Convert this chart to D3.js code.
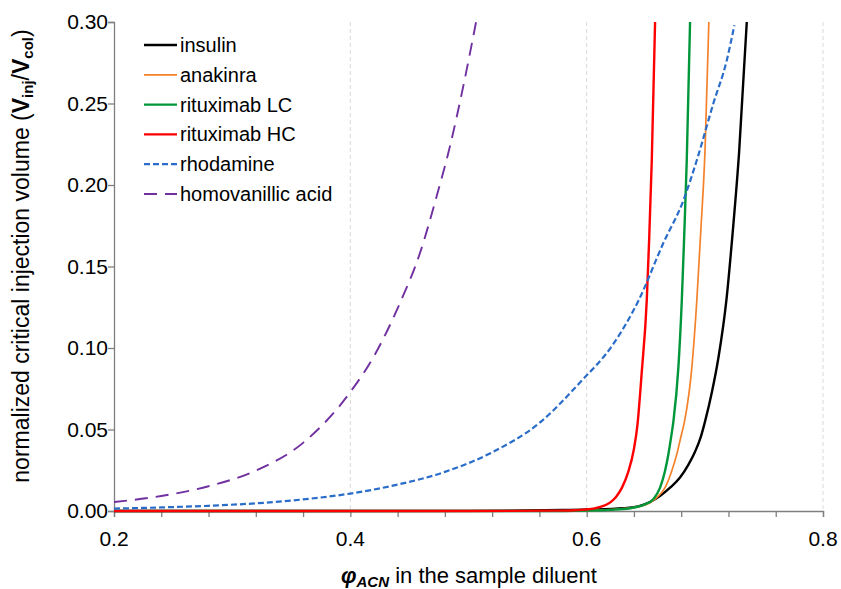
<!DOCTYPE html>
<html>
<head>
<meta charset="utf-8">
<script src="https://cdn.jsdelivr.net/npm/d3@7"></script>
<style>
  html, body { margin: 0; padding: 0; background: #fff; }
  svg { display: block; font-family: Arial, "Liberation Sans", sans-serif; }
</style>
</head>
<body>
<svg id="chart" width="841" height="589"></svg>
<script>
// φ_ACN in the sample diluent vs. normalized critical injection volume
const seriesNames = ["insulin", "anakinra", "rituximab LC", "rituximab HC", "rhodamine", "homovanillic acid"];
const seriesColors = ["#000000", "#F4822A", "#00973A", "#FF0000", "#2A6DC9", "#7030A0"];

const insulin = [[0.2,0],[0.5,0.0001],[0.55,0.0003],[0.58,0.0006],[0.603,0.0009],[0.631,0.0017],[0.645,0.0031],[0.654,0.0057],[0.662,0.0092],[0.6706,0.0143],[0.679,0.0205],[0.686,0.0283],[0.6918,0.0365],[0.6966,0.0455],[0.7002,0.055],[0.706,0.073],[0.7115,0.094],[0.7182,0.129],[0.7237,0.172],[0.729,0.22],[0.7355,0.30]];
const anakinra = [[0.2,0],[0.55,0],[0.60,0.0003],[0.62,0.0008],[0.64,0.0022],[0.6537,0.0051],[0.6593,0.0082],[0.6663,0.0143],[0.672,0.0246],[0.6763,0.0349],[0.6796,0.0451],[0.6829,0.0553],[0.689,0.088],[0.6932,0.129],[0.6966,0.172],[0.7002,0.222],[0.7034,0.30]];
const rituximabLC = [[0.2,0],[0.58,0],[0.60,0.0002],[0.62,0.0007],[0.6367,0.0017],[0.6494,0.0041],[0.6564,0.0072],[0.6621,0.0143],[0.6663,0.0246],[0.6692,0.035],[0.6714,0.045],[0.6734,0.055],[0.6776,0.088],[0.6805,0.129],[0.6824,0.166],[0.6847,0.215],[0.6875,0.30]];
const rituximabHC = [[0.2,0],[0.5,0],[0.57,0.0002],[0.59,0.0005],[0.60,0.0009],[0.61,0.0022],[0.62,0.0053],[0.625,0.0088],[0.63,0.0145],[0.635,0.0235],[0.64,0.038],[0.643,0.053],[0.6466,0.085],[0.6509,0.13],[0.6528,0.165],[0.6551,0.215],[0.6579,0.30]];
const rhodamine = [[0.2,0.0015],[0.24,0.0022],[0.28,0.0032],[0.32,0.0047],[0.36,0.0071],[0.40,0.0107],[0.44,0.0162],[0.48,0.024],[0.52,0.036],[0.56,0.054],[0.5944,0.0789],[0.6226,0.1025],[0.6438,0.129],[0.6649,0.1644],[0.6819,0.1906],[0.6932,0.2152],[0.7072,0.25],[0.7186,0.2766],[0.725,0.298]];
const homovanillicAcid = [[0.2,0.0055],[0.24,0.0092],[0.28,0.0152],[0.32,0.0248],[0.36,0.0418],[0.40,0.0730],[0.42,0.095],[0.442,0.1276],[0.459,0.1584],[0.4731,0.1932],[0.4844,0.224],[0.4957,0.261],[0.5064,0.30]];

const xMajorTicks = [0.2, 0.4, 0.6, 0.8];
const xMinorTicks = d3.range(0, 16).map(i => 0.2 + i * 0.04);
const yTicks = [0, 0.05, 0.10, 0.15, 0.20, 0.25, 0.30];

const seriesData = [insulin, anakinra, rituximabLC, rituximabHC, rhodamine, homovanillicAcid];
const seriesWidths = [2.4, 1.7, 2.4, 2.4, 2.2, 1.9];
const seriesDash = [null, null, null, null, "6,3", "13,8"];

const svg = d3.select("#chart");
const plotLeft = 114, plotRight = 823, plotTop = 22, plotBottom = 511;

const x = d3.scaleLinear().domain([0.2, 0.8]).range([plotLeft, plotRight]);
const y = d3.scaleLinear().domain([0, 0.30]).range([plotBottom, plotTop]);

// vertical dashed gridlines at major x ticks
svg.append("g").selectAll("line")
  .data(xMajorTicks.slice(1))
  .join("line")
  .attr("x1", d => x(d)).attr("x2", d => x(d))
  .attr("y1", plotTop).attr("y2", plotBottom)
  .attr("stroke", "#d9d9d9").attr("stroke-width", 1)
  .attr("stroke-dasharray", "4,3");

// x axis: minor ticks every 0.04, labels at 0.2 steps
const xAxis = svg.append("g").attr("transform", `translate(0,${plotBottom})`)
  .call(d3.axisBottom(x).tickValues(xMinorTicks).tickSize(6).tickFormat(""));
xAxis.select(".domain").attr("stroke", "#7f7f7f").attr("stroke-width", 1.3);
xAxis.selectAll(".tick line").attr("stroke", "#7f7f7f").attr("stroke-width", 1.3);

svg.append("g").selectAll("text")
  .data(xMajorTicks)
  .join("text")
  .attr("x", d => x(d)).attr("y", 546)
  .attr("text-anchor", "middle")
  .attr("font-size", 21).attr("fill", "#000")
  .text(d => d3.format(".1f")(d));

// y axis
const yAxis = svg.append("g").attr("transform", `translate(${plotLeft},0)`)
  .call(d3.axisLeft(y).tickValues(yTicks).tickSize(6).tickFormat(d3.format(".2f")));
yAxis.select(".domain").attr("stroke", "#7f7f7f").attr("stroke-width", 1.3);
yAxis.selectAll(".tick line").attr("stroke", "#7f7f7f").attr("stroke-width", 1.3);
yAxis.selectAll(".tick text").attr("font-size", 21).attr("fill", "#000")
  .attr("font-family", "Arial, 'Liberation Sans', sans-serif").attr("x", -6);

// clip curves to the plotting area
svg.append("clipPath").attr("id", "plotClip")
  .append("rect").attr("x", plotLeft).attr("y", plotTop - 1)
  .attr("width", plotRight - plotLeft).attr("height", plotBottom - plotTop + 4);

const line = d3.line()
  .x(d => x(d[0])).y(d => y(d[1]))
  .curve(d3.curveMonotoneX);

const curves = svg.append("g").attr("clip-path", "url(#plotClip)");
seriesData.forEach((data, i) => {
  curves.append("path")
    .datum(data)
    .attr("d", line)
    .attr("fill", "none")
    .attr("stroke", seriesColors[i])
    .attr("stroke-width", seriesWidths[i])
    .attr("stroke-dasharray", seriesDash[i]);
});

// legend
const legend = svg.append("g");
seriesNames.forEach((name, i) => {
  const ly = 45 + i * 29.8;
  legend.append("line")
    .attr("x1", 144).attr("x2", 177).attr("y1", ly).attr("y2", ly)
    .attr("stroke", seriesColors[i])
    .attr("stroke-width", seriesWidths[i])
    .attr("stroke-dasharray", seriesDash[i]);
  legend.append("text")
    .attr("x", 180).attr("y", ly + 7)
    .attr("font-size", 20).attr("fill", "#000")
    .text(name);
});

// y axis title
const yTitle = svg.append("text")
  .attr("transform", "translate(29,256) rotate(-90)")
  .attr("text-anchor", "middle")
  .attr("font-size", 23).attr("fill", "#000");
yTitle.append("tspan").text("normalized critical injection volume (");
yTitle.append("tspan").attr("font-weight", "bold").text("V");
yTitle.append("tspan").attr("font-weight", "bold").attr("font-size", 15).attr("dy", 4).text("inj");
yTitle.append("tspan").attr("dy", -4).text("/");
yTitle.append("tspan").attr("font-weight", "bold").text("V");
yTitle.append("tspan").attr("font-weight", "bold").attr("font-size", 15).attr("dy", 4).text("col");
yTitle.append("tspan").attr("dy", -4).text(")");

// x axis title
const xTitle = svg.append("text")
  .attr("x", 469).attr("y", 583)
  .attr("text-anchor", "middle")
  .attr("font-size", 22).attr("fill", "#000");
xTitle.append("tspan").attr("font-weight", "bold").attr("font-style", "italic").text("φ");
xTitle.append("tspan").attr("font-weight", "bold").attr("font-style", "italic")
  .attr("font-size", 15).attr("dy", 4).text("ACN");
xTitle.append("tspan").attr("dy", -4).text(" in the sample diluent");
</script>
</body>
</html>
